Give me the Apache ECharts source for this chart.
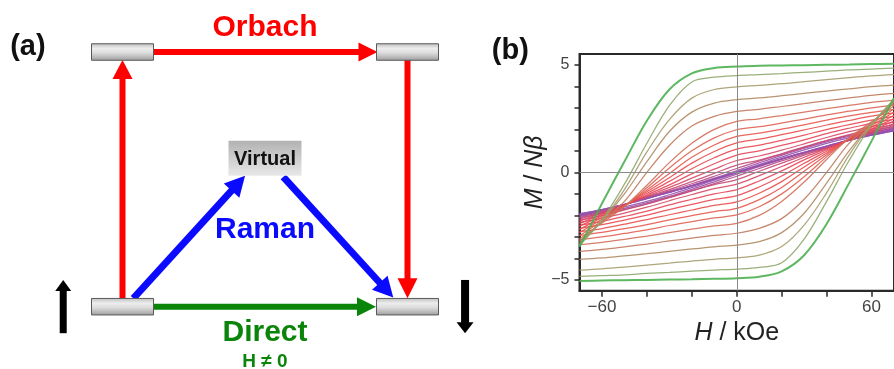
<!DOCTYPE html>
<html><head><meta charset="utf-8">
<script src="https://cdn.jsdelivr.net/npm/echarts@6/dist/echarts.min.js"></script>
<style>html,body{margin:0;padding:0;background:#fff}#c{width:894px;height:369px}</style>
</head><body><div id="c"></div>
<script>
// ---------- Panel (b): M/Nβ vs H hysteresis loops (upper branches, sweep down) ----------
const H = [-70,-60,-50,-40,-30,-20,-10,0,10,20,30,40,50,60,70];
const xTicks = [-60,-40,-20,0,20,40,60];
const xTickLabels = [-60,0,60];
const yTicks = [-5,-4,-3,-2,-1,0,1,2,3,4,5];
const yTickLabels = [-5,0,5];

const upper0  = [-3.46,-1.45,0.5,2.4,3.85,4.6,4.85,4.92,4.95,4.97,4.98,5.0,5.01,5.03,5.05];
const upper1  = [-3.4,-2.2,-0.55,1.35,3.1,4.2,4.42,4.5,4.54,4.59,4.65,4.70,4.76,4.80,4.84];
const upper2  = [-3.35,-2.25,-0.8,0.95,2.45,3.45,3.85,3.97,4.04,4.12,4.22,4.31,4.40,4.48,4.54];
const upper3  = [-3.28,-2.25,-1.0,0.5,1.9,2.8,3.22,3.38,3.46,3.56,3.67,3.78,3.88,3.98,4.05];
const upper4  = [-3.2,-2.3,-1.35,0.0,1.25,2.15,2.6,2.83,2.93,3.06,3.19,3.33,3.46,3.58,3.67];
const upper5  = [-3.1,-2.35,-1.59,-0.6,0.45,1.35,2.0,2.37,2.49,2.64,2.80,2.96,3.11,3.25,3.36];
const upper6  = [-2.95,-2.26,-1.58,-0.72,0.2,1.0,1.6,1.98,2.12,2.29,2.47,2.67,2.84,3.0,3.13];
const upper7  = [-2.8,-2.18,-1.56,-0.82,-0.05,0.7,1.27,1.67,1.82,2.01,2.21,2.43,2.62,2.79,2.93];
const upper8  = [-2.65,-2.1,-1.55,-0.9,-0.25,0.43,0.97,1.37,1.54,1.75,1.97,2.20,2.41,2.61,2.76];
const upper9  = [-2.5,-2.02,-1.54,-0.98,-0.42,0.17,0.68,1.08,1.26,1.49,1.73,1.99,2.22,2.43,2.6];
const upper10 = [-2.38,-1.95,-1.53,-1.05,-0.58,-0.07,0.4,0.8,1.0,1.25,1.51,1.80,2.05,2.28,2.46];
const upper11 = [-2.27,-1.89,-1.52,-1.1,-0.7,-0.27,0.15,0.55,0.76,1.03,1.32,1.62,1.89,2.13,2.33];
const upper12 = [-2.18,-1.85,-1.51,-1.13,-0.8,-0.43,-0.05,0.34,0.57,0.85,1.15,1.47,1.75,2.01,2.22];
const upper13 = [-2.1,-1.8,-1.5,-1.16,-0.86,-0.53,-0.18,0.18,0.52,0.86,1.18,1.47,1.72,1.93,2.12];
const upper14 = [-2.03,-1.76,-1.49,-1.18,-0.9,-0.6,-0.27,0.08,0.44,0.79,1.12,1.42,1.67,1.87,2.04];
const upper15 = [-1.98,-1.74,-1.49,-1.2,-0.92,-0.63,-0.31,0.03,0.36,0.71,1.04,1.35,1.6,1.81,1.98];
const upper16 = [-1.93,-1.73,-1.5,-1.22,-0.93,-0.63,-0.31,0,0.31,0.63,0.93,1.22,1.5,1.73,1.93];
const loops = [upper0,upper1,upper2,upper3,upper4,upper5,upper6,upper7,upper8,upper9,upper10,upper11,upper12,upper13,upper14,upper15,upper16];

// ---------- Panel (a): relaxation-pathway schematic (diagram units: column / level) ----------
const levelPos = [[0,0],[1,0],[0,1],[1,1]];
const virtualPos = [[0.5,0.583]];
const virtualLabel = ['Virtual'];
const arrowPaths = [
  [0,0,0,1],            // Orbach up
  [0,1,1,1],            // Orbach across
  [1,1,1,0],            // Orbach down
  [0,0,1,0],            // Direct
  [0.038,0.033,0.43,0.514],   // Raman up
  [0.564,0.51,0.95,0.036],    // Raman down
  [-0.208,-0.104,-0.208,0.105], // spin up
  [1.202,0.105,1.202,-0.104]    // spin down
];
const diagramTexts = ['(a)','Orbach','Raman','Direct','H \u2260 0','(b)'];
const diagramTextPos = [[-0.332,1.018],[0.5,1.096],[0.5,0.301],[0.5,-0.103],[0.5,-0.215],[1.361,1.004]];

// ---------- styles ----------
const FONT = '"Liberation Sans", Arial, Helvetica, sans-serif';
const loopColors = ['#4caf50','#8ea66a','#a59c6c','#b08a62','#c07a5c','#d26e58','#de6252','#e6564e',
  '#ea4c4c','#ea4850','#e44658','#d84864','#c84a76','#b44c8c','#a04ea0','#9450ae','#8a52b8'];
const arrowStyle = [
  {c:'#ff0000', w:6, hl:19, hw:20, t0:8.4, t1:8},
  {c:'#ff0000', w:6, hl:19, hw:19, t0:31, t1:30},
  {c:'#ff0000', w:6, hl:20, hw:20, t0:8, t1:8.4},
  {c:'#0a850a', w:6, hl:19, hw:19, t0:31, t1:31.5},
  {c:'#0a0aff', w:7, hl:20, hw:21, t0:0, t1:0},
  {c:'#0a0aff', w:7, hl:20, hw:21, t0:0, t1:0},
  {c:'#000000', w:7, hl:11, hw:16, t0:0, t1:0},
  {c:'#000000', w:8, hl:11, hw:17, t0:0, t1:0}
];
const textStyle = [
  {c:'#111', s:29},{c:'#ff0000', s:30},{c:'#0a0aff', s:30},{c:'#0a850a', s:30},{c:'#0a850a', s:19},{c:'#111', s:29}
];

const chart = echarts.init(document.getElementById('c'), null, {renderer:'canvas'});

const series = [];
for (let k = loops.length - 1; k >= 0; k--) {
  const up = loops[k];
  const low = up.slice().reverse().map(v => -v); // lower branch: point-reflection of the upper one
  const ls = {color: loopColors[k], width: k === 0 ? 2 : 1.25, opacity: 0.9};
  const s1 = {type:'line', xAxisIndex:0, yAxisIndex:0, data:H.map((h,i)=>[h, up[i]]), smooth:0.35,
    showSymbol:false, symbol:'none', lineStyle:ls, silent:true, z:3, animation:false};
  const s2 = {type:'line', xAxisIndex:0, yAxisIndex:0, data:H.map((h,i)=>[h, low[i]]), smooth:0.35,
    showSymbol:false, symbol:'none', lineStyle:ls, silent:true, z:3, animation:false};
  if (series.length === 0) {
    s1.markLine = {silent:true, symbol:['none','none'], animation:false, label:{show:false},
      lineStyle:{color:'#8a8a8a', width:1, type:'solid'}, data:[{xAxis:0},{yAxis:0}]};
  }
  series.push(s1, s2);
}

// schematic series
series.push({
  type:'custom', xAxisIndex:1, yAxisIndex:1, silent:true, z:5, animation:false,
  data: arrowPaths, encode:{x:[0,2], y:[1,3]},
  renderItem: function(params, api){
    const st = arrowStyle[params.dataIndex];
    const p0 = api.coord([api.value(0), api.value(1)]);
    const p1 = api.coord([api.value(2), api.value(3)]);
    let dx = p1[0]-p0[0], dy = p1[1]-p0[1];
    const L = Math.hypot(dx,dy); dx/=L; dy/=L;
    const s = [p0[0]+dx*st.t0, p0[1]+dy*st.t0];
    const e = [p1[0]-dx*st.t1, p1[1]-dy*st.t1];
    const b = [e[0]-dx*st.hl, e[1]-dy*st.hl];
    const nx = -dy, ny = dx;
    return {type:'group', children:[
      {type:'line', shape:{x1:s[0], y1:s[1], x2:b[0]+dx, y2:b[1]+dy}, style:{stroke:st.c, lineWidth:st.w, lineCap:'butt'}},
      {type:'polygon', shape:{points:[e,[b[0]+nx*st.hw/2, b[1]+ny*st.hw/2],[b[0]-nx*st.hw/2, b[1]-ny*st.hw/2]]}, style:{fill:st.c}}
    ]};
  }
});
series.push({
  type:'custom', xAxisIndex:1, yAxisIndex:1, silent:true, z:6, animation:false,
  data: levelPos,
  renderItem: function(params, api){
    const p = api.coord([api.value(0), api.value(1)]);
    const w = 62, h = 16.5;
    return {type:'rect', shape:{x:p[0]-w/2, y:p[1]-h/2, width:w, height:h},
      style:{fill:new echarts.graphic.LinearGradient(0,0,0,1,[
        {offset:0,color:'#bdbdbd'},{offset:0.3,color:'#ededed'},{offset:0.55,color:'#dcdcdc'},{offset:1,color:'#9c9c9c'}]),
        stroke:'#5a5a5a', lineWidth:1}};
  }
});
series.push({
  type:'custom', xAxisIndex:1, yAxisIndex:1, silent:true, z:6, animation:false,
  data: virtualPos,
  renderItem: function(params, api){
    const p = api.coord([api.value(0), api.value(1)]);
    const w = 73, h = 35;
    return {type:'group', children:[
      {type:'rect', shape:{x:p[0]-w/2, y:p[1]-h/2, width:w, height:h},
        style:{fill:new echarts.graphic.LinearGradient(0,0,0,1,[{offset:0,color:'#b2b2b2'},{offset:1,color:'#e8e8e8'}])}},
      {type:'text', x:p[0], y:p[1]+1, style:{text:virtualLabel[params.dataIndex], fill:'#111',
        font:'bold 20px ' + FONT, align:'center', verticalAlign:'middle'}}
    ]};
  }
});
series.push({
  type:'custom', xAxisIndex:1, yAxisIndex:1, silent:true, z:7, animation:false,
  data: diagramTextPos,
  renderItem: function(params, api){
    const p = api.coord([api.value(0), api.value(1)]);
    const st = textStyle[params.dataIndex];
    return {type:'text', x:p[0], y:p[1], style:{text:diagramTexts[params.dataIndex], fill:st.c,
      font:'bold ' + st.s + 'px ' + FONT, align:'center', verticalAlign:'middle'}};
  }
});

const minus = v => (v < 0 ? '\u2212' + Math.abs(v) : String(v));

chart.setOption({
  animation:false,
  backgroundColor:'#ffffff',
  grid:[
    {left:579.5, top:54, width:320, height:236.7, show:true, borderColor:'#2a2a2a', borderWidth:2, backgroundColor:'transparent'},
    {left:122.5, top:52, width:285, height:254.7, show:false}
  ],
  xAxis:[
    {gridIndex:0, type:'value', min:-70, max:70,
      name:'{i|H} / kOe', nameLocation:'middle', nameGap:30,
      nameTextStyle:{fontFamily:FONT, fontSize:25, color:'#222', rich:{i:{fontStyle:'italic', fontFamily:FONT, fontSize:25, color:'#222'}}},
      axisLine:{show:true, onZero:false, lineStyle:{color:'#2a2a2a', width:2}},
      axisTick:{show:true, customValues:xTicks, length:6, lineStyle:{color:'#2a2a2a', width:1.5}},
      axisLabel:{customValues:xTickLabels, formatter:minus, color:'#444', fontFamily:FONT, fontSize:17, margin:8},
      splitLine:{show:false}},
    {gridIndex:1, type:'value', min:0, max:1, show:false}
  ],
  yAxis:[
    {gridIndex:0, type:'value', min:-5.5, max:5.5,
      name:'{i|M} / {i|N\u03b2}', nameLocation:'middle', nameGap:31, nameRotate:90,
      nameTextStyle:{fontFamily:FONT, fontSize:25, color:'#222', rich:{i:{fontStyle:'italic', fontFamily:FONT, fontSize:25, color:'#222'}}},
      axisLine:{show:true, onZero:false, lineStyle:{color:'#2a2a2a', width:2}},
      axisTick:{show:true, customValues:yTicks, length:5, lineStyle:{color:'#2a2a2a', width:1.5}},
      axisLabel:{customValues:yTickLabels, formatter:minus, color:'#444', fontFamily:FONT, fontSize:16, margin:10},
      splitLine:{show:false}},
    {gridIndex:1, type:'value', min:0, max:1, show:false}
  ],
  series: series
});
</script>
</body></html>
